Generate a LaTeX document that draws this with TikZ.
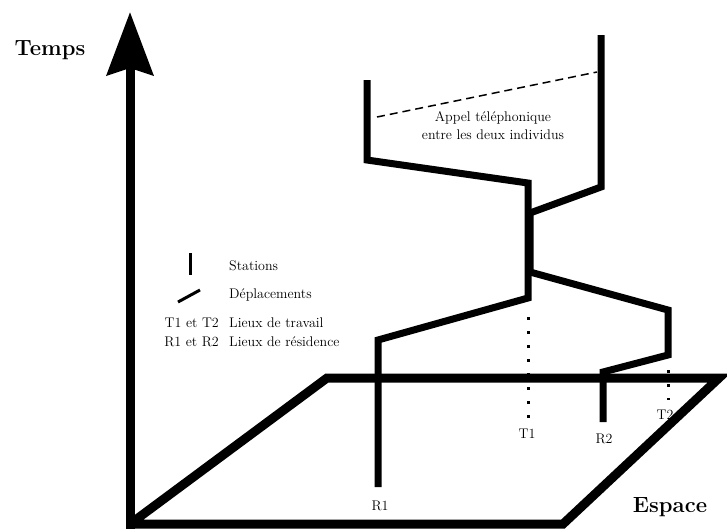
\documentclass[tikz,border=0pt]{standalone}
\usepackage{tikz}
\usetikzlibrary{arrows.meta, calc}

\begin{document}
\begin{tikzpicture}[x=1pt, y=-1pt,
	axe/.style={line width=9pt},
	trajet/.style={line width=7pt},
	repere/.style={line width=3pt, dash pattern=on 3pt off 11pt},
	appel/.style={line width=1.5pt, dash pattern=on 8pt off 5pt},
	petit/.style={font=\fontsize{14}{18}\selectfont, inner sep=0pt},
	titre/.style={font=\bfseries\fontsize{22}{26}\selectfont, inner sep=0pt}]

	\useasboundingbox (0,0) rectangle (727,531);

	\coordinate (O) at (130,524);
	\coordinate (H) at (130,12);
	\coordinate (B) at (327,378);
	\coordinate (C) at (719,378);
	\coordinate (D) at (563,524);

	\draw[axe] (O) -- (D) -- (C) -- (B) -- (O);
	\draw[axe, line cap=rect, -{Stealth[length=63pt, width=46pt, inset=7pt]}] (O) -- (H);

	\coordinate (R1) at (378,487);
	\coordinate (R1a) at (378,340);
	\coordinate (T1) at (528,298);
	\coordinate (T1b) at (528,183);
	\coordinate (R1c) at (367,160);
	\coordinate (R1d) at (367,80);

	\coordinate (R2) at (603,422);
	\coordinate (R2a) at (603,372);
	\coordinate (T2) at (668,355);
	\coordinate (T2b) at (668,310);
	\coordinate (M1) at (530,272);
	\coordinate (M2) at (530,213);
	\coordinate (R2c) at (601,187);
	\coordinate (R2d) at (601,35);

	\draw[trajet] (R1) -- (R1a) -- (T1) -- (T1b) -- (R1c) -- (R1d);
	\draw[trajet] (R2) -- (R2a) -- (T2) -- (T2b) -- (M1) -- (M2) -- (R2c) -- (R2d);

	\draw[repere] (528,317) -- (528,420);
	\draw[repere] (668,370) -- (668,400);

	\coordinate (call1) at (377,117);
	\coordinate (call2) at (597,72);
	\draw[appel] (call1) -- (call2);
	\node[petit, align=center] (texteappel) at (493,126) {Appel téléphonique\\entre les deux individus};

	\node[titre, anchor=base] (temps) at (50,55) {Temps};
	\node[titre, anchor=base] (espace) at (670,512) {Espace};

	\node[petit, anchor=base] (lR1) at (380,510) {R1};
	\node[petit, anchor=base] (lT1) at (527,438) {T1};
	\node[petit, anchor=base] (lR2) at (604,443) {R2};
	\node[petit, anchor=base] (lT2) at (665,419) {T2};

	\draw[line width=3pt] (190,253) -- (190,275);
	\draw[line width=3pt] (178,302) -- (200,290);
	\node[petit, anchor=base west] (stations) at (229,270) {Stations};
	\node[petit, anchor=base west] (deplacements) at (229,298) {Déplacements};
	\node[petit, anchor=base east] (t1t2) at (219,327) {T1 et T2};
	\node[petit, anchor=base west] (travail) at (229,327) {Lieux de travail};
	\node[petit, anchor=base east] (r1r2) at (219,346) {R1 et R2};
	\node[petit, anchor=base west] (residence) at (229,346) {Lieux de résidence};

\end{tikzpicture}
\end{document}
